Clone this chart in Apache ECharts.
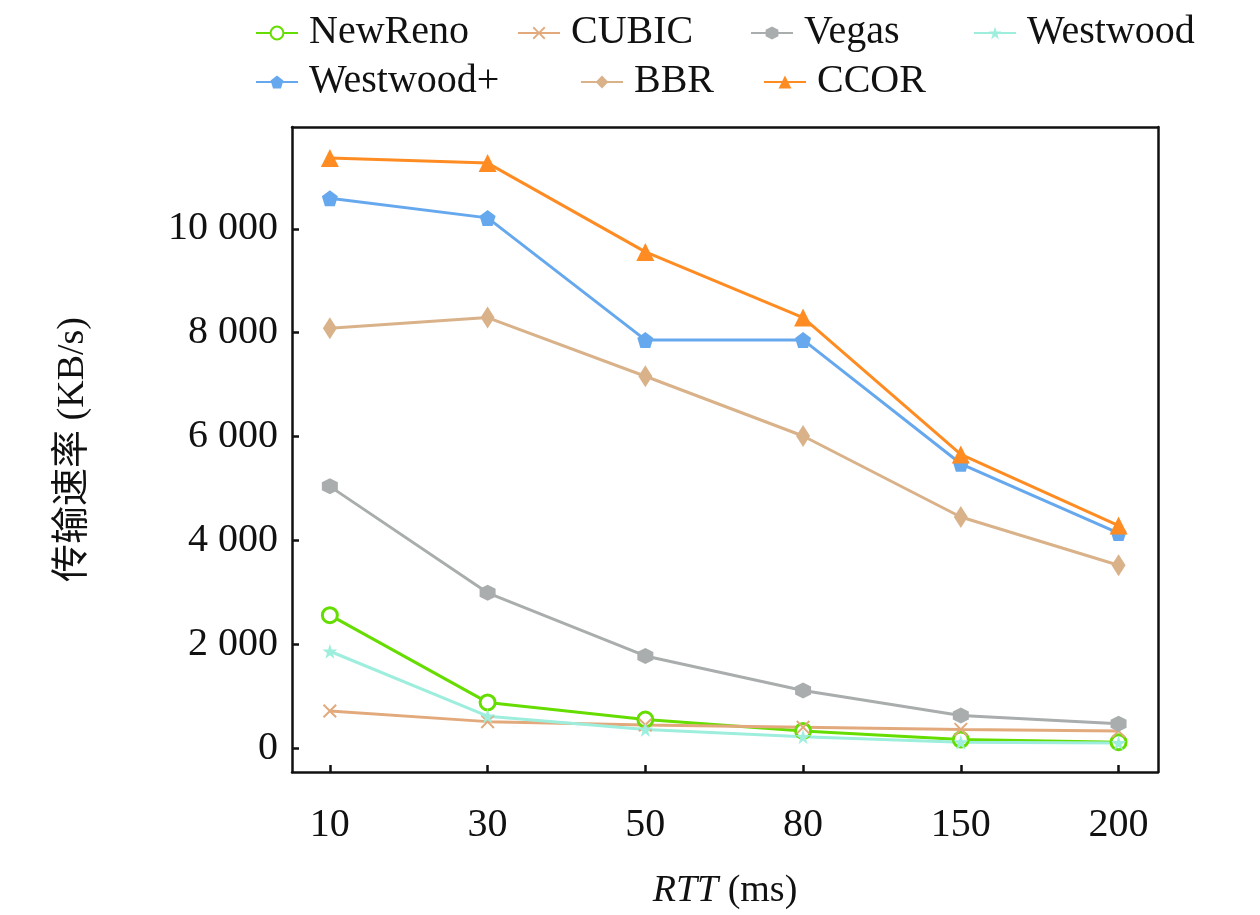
<!DOCTYPE html>
<html>
<head>
<meta charset="utf-8">
<script src="https://cdn.jsdelivr.net/npm/echarts@6/dist/echarts.min.js"></script>
<style>html,body{margin:0;background:#fff}#main{width:1260px;height:915px}</style>
</head>
<body>
<div id="main"></div>
<script>
const categories = ['10', '30', '50', '80', '150', '200'];
const yTicks = [0, 2000, 4000, 6000, 8000, 10000];
const newReno = [2560, 880, 550, 330, 165, 115];
const cubic = [715, 510, 445, 400, 360, 330];
const vegas = [5040, 2990, 1775, 1110, 630, 470];
const westwood = [1865, 615, 360, 220, 115, 100];
const westwoodPlus = [10590, 10210, 7860, 7860, 5475, 4140];
const bbr = [8085, 8290, 7160, 6010, 4450, 3520];
const ccor = [11365, 11265, 9555, 8290, 5655, 4285];

const serif = 'Liberation Serif, Times New Roman, Noto Sans CJK SC';
const HEX = 'path://M50,0 L93,25 L93,75 L50,100 L7,75 L7,25 Z';
const PENT = 'path://M50,0 L100,38 L81,100 L19,100 L0,38 Z';
const STAR = 'path://M50,0 L61,35 L98,35 L68,57 L79,92 L50,70 L21,92 L32,57 L2,35 L39,35 Z';
const CROSS = 'path://M0,10 L10,0 L50,40 L90,0 L100,10 L60,50 L100,90 L90,100 L50,60 L10,100 L0,90 L40,50 Z';

const defs = [
  {name: 'NewReno', data: newReno, color: '#66dd00', symbol: 'circle', size: 15, legend: [250, 8]},
  {name: 'CUBIC', data: cubic, color: '#e2aa7c', symbol: CROSS, size: 14, legend: [512, 8]},
  {name: 'Vegas', data: vegas, color: '#a9adad', symbol: HEX, size: 16, legend: [745, 8]},
  {name: 'Westwood', data: westwood, color: '#9eeedd', symbol: STAR, size: 15, legend: [968, 8]},
  {name: 'Westwood+', data: westwoodPlus, color: '#66a8ee', symbol: PENT, size: 16, legend: [250, 57]},
  {name: 'BBR', data: bbr, color: '#d9b28a', symbol: 'path://M50,0 L100,50 L50,100 L0,50 Z', size: [14, 22], legend: [575, 57]},
  {name: 'CCOR', data: ccor, color: '#ff8c22', symbol: 'triangle', size: 18, legend: [758, 57]}
];

const chart = echarts.init(document.getElementById('main'));
chart.setOption({
  animation: false,
  legend: defs.map(d => ({
    data: [d.name], left: d.legend[0], top: d.legend[1],
    itemWidth: 42, itemHeight: 16, itemGap: 0,
    textStyle: {fontFamily: serif, fontSize: 40, color: '#111', padding: [0, 0, 0, 6]}
  })),
  grid: {left: 292, right: 102, top: 127, bottom: 142},
  xAxis: [{
    type: 'value', min: -0.24, max: 5.25,
    name: '{i|RTT} (ms)', nameLocation: 'middle', nameGap: 100,
    nameTextStyle: {fontFamily: serif, fontSize: 38, color: '#111', rich: {i: {fontFamily: serif, fontSize: 38, fontStyle: 'italic', color: '#111'}}},
    splitLine: {show: false},
    axisLine: {onZero: false, lineStyle: {color: '#111', width: 2.5}},
    axisTick: {inside: true, length: 7, lineStyle: {width: 2.5}, customValues: [0, 1, 2, 3, 4, 5]},
    axisLabel: {fontFamily: serif, fontSize: 40, color: '#111', margin: 34, customValues: [0, 1, 2, 3, 4, 5],
      formatter: v => categories[Math.round(v)]}
  }, {
    type: 'value', position: 'top', min: -0.24, max: 5.25,
    axisLine: {onZero: false, lineStyle: {color: '#111', width: 2.5}}, axisTick: {show: false}, axisLabel: {show: false}, splitLine: {show: false}
  }],
  yAxis: [{
    type: 'value', min: -460, max: 11960,
    name: '传输速率 (KB/s)', nameLocation: 'middle', nameGap: 200, nameRotate: 90,
    nameTextStyle: {fontFamily: serif, fontSize: 38, color: '#111'},
    splitLine: {show: false},
    axisLine: {onZero: false, lineStyle: {color: '#111', width: 2.5}},
    axisTick: {inside: true, length: 7, lineStyle: {width: 2.5}, customValues: yTicks},
    axisLabel: {fontFamily: serif, fontSize: 40, color: '#111', margin: 14, customValues: yTicks,
      formatter: v => v >= 1000 ? Math.floor(v / 1000) + ' ' + String(v % 1000).padStart(3, '0') : String(v)}
  }, {
    type: 'value', position: 'right', min: -460, max: 11960,
    axisLine: {show: true, onZero: false, lineStyle: {color: '#111', width: 2.5}}, axisTick: {show: false}, axisLabel: {show: false}, splitLine: {show: false}
  }],
  series: defs.map(d => ({
    name: d.name, type: 'line',
    data: d.data.map((v, i) => [i, v]),
    symbol: d.symbol, symbolSize: d.size, showAllSymbol: true,
    color: d.color,
    lineStyle: {width: 3, color: d.color},
    itemStyle: d.name === 'NewReno'
      ? {color: '#fff', borderColor: d.color, borderWidth: 3}
      : {color: d.color}
  }))
});
</script>
</body>
</html>
